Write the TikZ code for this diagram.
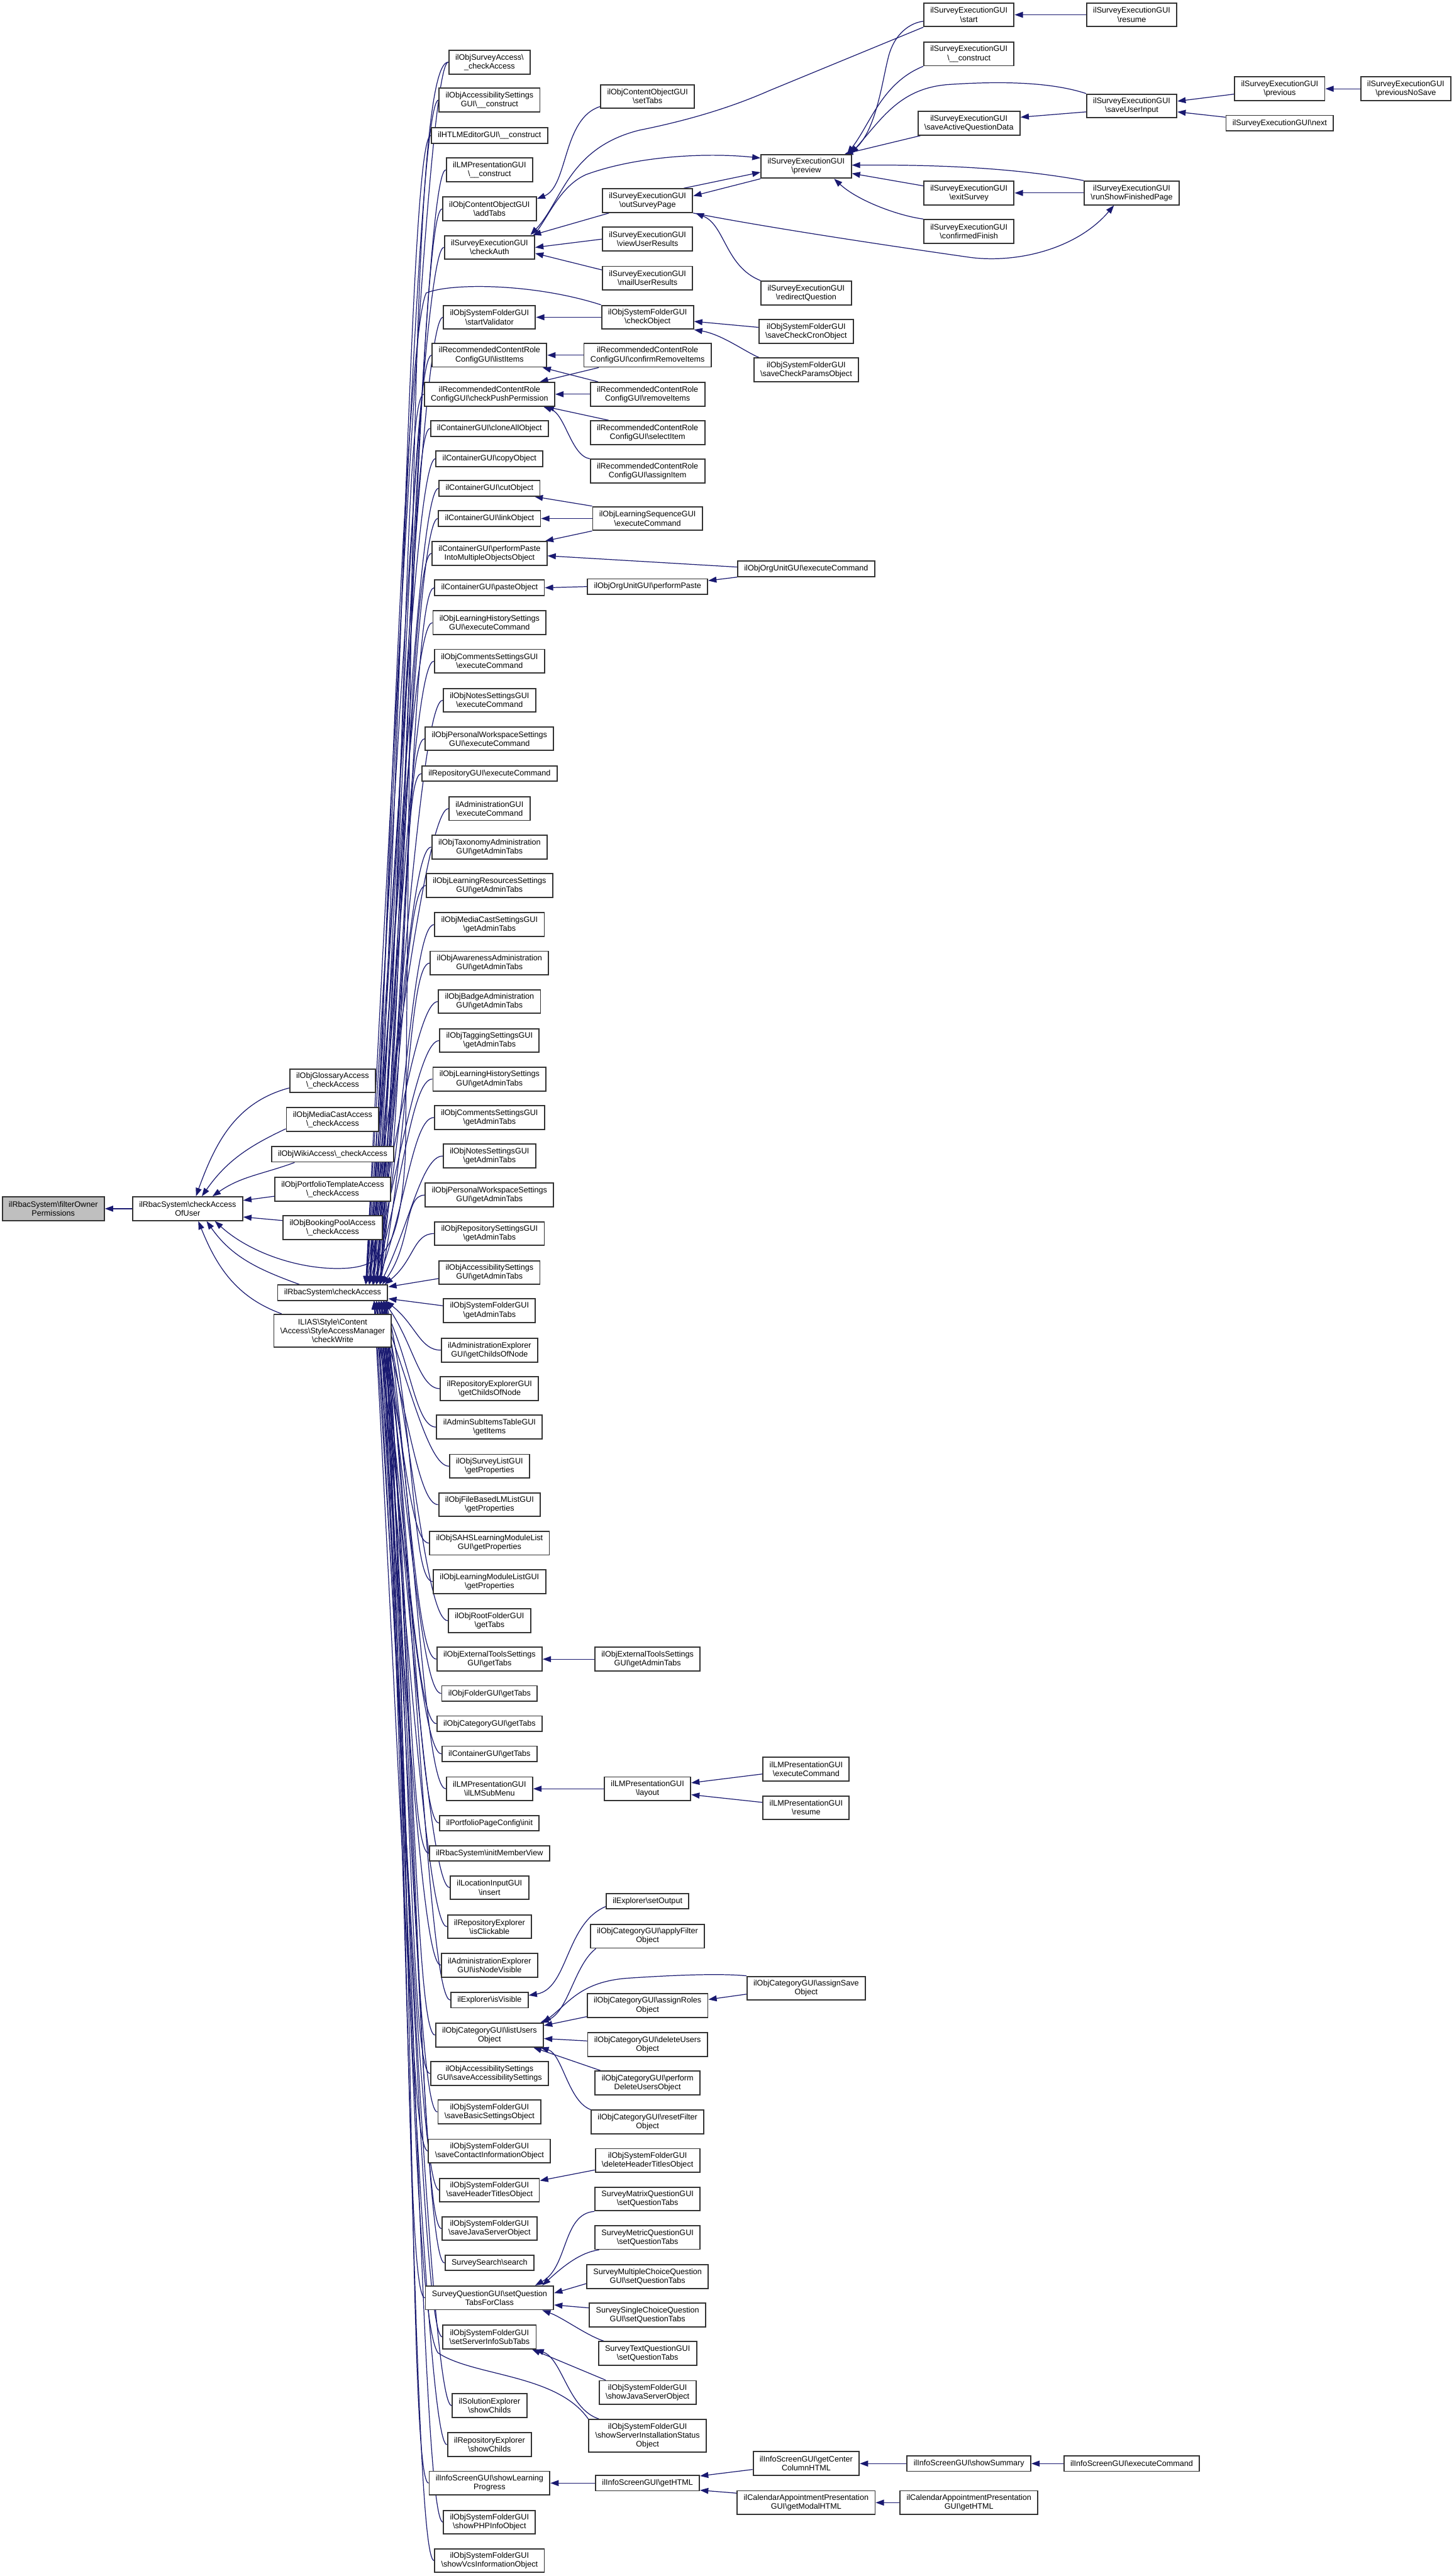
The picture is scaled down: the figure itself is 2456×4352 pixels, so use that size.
\documentclass[tikz,border=0pt]{standalone}
\usepackage{fontspec}
\setmainfont{Liberation Sans}
\usetikzlibrary{arrows.meta}
\newcommand\bksl{\textbackslash}
\definecolor{edgeblue}{HTML}{191970}
\definecolor{rootgray}{HTML}{BFBFBF}
\pgfdeclarelayer{bg}
\pgfsetlayers{bg,main}
\tikzset{
 box/.style={draw=black!80, line width=1pt, fill=white, font=\fontsize{6.7}{7.5}\selectfont, align=center, inner xsep=5.5pt, inner ysep=1pt, minimum height=20pt},
 one/.style={minimum height=13pt},
 three/.style={minimum height=27.5pt},
 root/.style={fill=rootgray},
 edge/.style={draw=edgeblue, line width=0.65pt, arrows={Triangle[length=7pt,width=5pt]-}},
}
\begin{document}
\begin{tikzpicture}[x=0.5pt,y=-0.5pt]
\useasboundingbox (0,0) rectangle (2456,4352);
% column 1-3
\node[box,root] (filter) at (90,2042) {ilRbacSystem\bksl filterOwner\\Permissions};
\node[box] (aou) at (317,2042) {ilRbacSystem\bksl checkAccess\\OfUser};
\node[box] (g1) at (562,1826) {ilObjGlossaryAccess\\\bksl\_checkAccess};
\node[box] (g2) at (562,1891) {ilObjMediaCastAccess\\\bksl\_checkAccess};
\node[box,one] (g3) at (562,1950) {ilObjWikiAccess\bksl\_checkAccess};
\node[box] (g4) at (562,2009) {ilObjPortfolioTemplateAccess\\\bksl\_checkAccess};
\node[box] (g5) at (562,2074) {ilObjBookingPoolAccess\\\bksl\_checkAccess};
\node[box,one] (ca) at (562,2184) {ilRbacSystem\bksl checkAccess};
\node[box,three] (sam) at (562,2248) {ILIAS\bksl Style\bksl Content\\\bksl Access\bksl StyleAccessManager\\\bksl checkWrite};
% column 4
\node[box] (a01) at (827,105) {ilObjSurveyAccess\bksl\\\_checkAccess};
\node[box] (a02) at (827,169) {ilObjAccessibilitySettings\\GUI\bksl\_\_construct};
\node[box,one] (a03) at (827,229) {ilHTLMEditorGUI\bksl\_\_construct};
\node[box] (a04) at (827,287) {ilLMPresentationGUI\\\bksl\_\_construct};
\node[box] (a05) at (827,353) {ilObjContentObjectGUI\\\bksl addTabs};
\node[box] (a06) at (827,418) {ilSurveyExecutionGUI\\\bksl checkAuth};
\node[box] (a07) at (827,536) {ilObjSystemFolderGUI\\\bksl startValidator};
\node[box] (a08) at (827,600) {ilRecommendedContentRole\\ConfigGUI\bksl listItems};
\node[box] (a09) at (827,666) {ilRecommendedContentRole\\ConfigGUI\bksl checkPushPermission};
\node[box,one] (a10) at (827,724) {ilContainerGUI\bksl cloneAllObject};
\node[box,one] (a11) at (827,775) {ilContainerGUI\bksl copyObject};
\node[box,one] (a12) at (827,825) {ilContainerGUI\bksl cutObject};
\node[box,one] (a13) at (827,876) {ilContainerGUI\bksl linkObject};
\node[box] (a14) at (827,935) {ilContainerGUI\bksl performPaste\\IntoMultipleObjectsObject};
\node[box,one] (a15) at (827,993) {ilContainerGUI\bksl pasteObject};
\node[box] (a16) at (827,1052) {ilObjLearningHistorySettings\\GUI\bksl executeCommand};
\node[box] (a17) at (827,1117) {ilObjCommentsSettingsGUI\\\bksl executeCommand};
\node[box] (a18) at (827,1183) {ilObjNotesSettingsGUI\\\bksl executeCommand};
\node[box] (a19) at (827,1248) {ilObjPersonalWorkspaceSettings\\GUI\bksl executeCommand};
\node[box,one] (a20) at (827,1307) {ilRepositoryGUI\bksl executeCommand};
\node[box] (a21) at (827,1366) {ilAdministrationGUI\\\bksl executeCommand};
\node[box] (a22) at (827,1431) {ilObjTaxonomyAdministration\\GUI\bksl getAdminTabs};
\node[box] (a23) at (827,1496) {ilObjLearningResourcesSettings\\GUI\bksl getAdminTabs};
\node[box] (a24) at (827,1562) {ilObjMediaCastSettingsGUI\\\bksl getAdminTabs};
\node[box] (a25) at (827,1627) {ilObjAwarenessAdministration\\GUI\bksl getAdminTabs};
\node[box] (a26) at (827,1692) {ilObjBadgeAdministration\\GUI\bksl getAdminTabs};
\node[box] (a27) at (827,1758) {ilObjTaggingSettingsGUI\\\bksl getAdminTabs};
\node[box] (a28) at (827,1823) {ilObjLearningHistorySettings\\GUI\bksl getAdminTabs};
\node[box] (a29) at (827,1888) {ilObjCommentsSettingsGUI\\\bksl getAdminTabs};
\node[box] (a30) at (827,1953) {ilObjNotesSettingsGUI\\\bksl getAdminTabs};
\node[box] (a31) at (827,2019) {ilObjPersonalWorkspaceSettings\\GUI\bksl getAdminTabs};
\node[box] (a32) at (827,2084) {ilObjRepositorySettingsGUI\\\bksl getAdminTabs};
\node[box] (a33) at (827,2150) {ilObjAccessibilitySettings\\GUI\bksl getAdminTabs};
\node[box] (a34) at (827,2214) {ilObjSystemFolderGUI\\\bksl getAdminTabs};
\node[box] (a35) at (827,2281) {ilAdministrationExplorer\\GUI\bksl getChildsOfNode};
\node[box] (a36) at (827,2346) {ilRepositoryExplorerGUI\\\bksl getChildsOfNode};
\node[box] (a37) at (827,2411) {ilAdminSubItemsTableGUI\\\bksl getItems};
\node[box] (a38) at (827,2477) {ilObjSurveyListGUI\\\bksl getProperties};
\node[box] (a39) at (827,2542) {ilObjFileBasedLMListGUI\\\bksl getProperties};
\node[box] (a40) at (827,2607) {ilObjSAHSLearningModuleList\\GUI\bksl getProperties};
\node[box] (a41) at (827,2672) {ilObjLearningModuleListGUI\\\bksl getProperties};
\node[box] (a42) at (827,2738) {ilObjRootFolderGUI\\\bksl getTabs};
\node[box] (a43) at (827,2803) {ilObjExternalToolsSettings\\GUI\bksl getTabs};
\node[box,one] (a44) at (827,2861) {ilObjFolderGUI\bksl getTabs};
\node[box,one] (a45) at (827,2912) {ilObjCategoryGUI\bksl getTabs};
\node[box,one] (a46) at (827,2963) {ilContainerGUI\bksl getTabs};
\node[box] (a47) at (827,3022) {ilLMPresentationGUI\\\bksl ilLMSubMenu};
\node[box,one] (a48) at (827,3080) {ilPortfolioPageConfig\bksl init};
\node[box,one] (a49) at (827,3131) {ilRbacSystem\bksl initMemberView};
\node[box] (a50) at (827,3189) {ilLocationInputGUI\\\bksl insert};
\node[box] (a51) at (827,3255) {ilRepositoryExplorer\\\bksl isClickable};
\node[box] (a52) at (827,3320) {ilAdministrationExplorer\\GUI\bksl isNodeVisible};
\node[box,one] (a53) at (827,3379) {ilExplorer\bksl isVisible};
\node[box] (a54) at (827,3438) {ilObjCategoryGUI\bksl listUsers\\Object};
\node[box] (a55) at (827,3503) {ilObjAccessibilitySettings\\GUI\bksl saveAccessibilitySettings};
\node[box] (a56) at (827,3568) {ilObjSystemFolderGUI\\\bksl saveBasicSettingsObject};
\node[box] (a57) at (827,3634) {ilObjSystemFolderGUI\\\bksl saveContactInformationObject};
\node[box] (a58) at (827,3700) {ilObjSystemFolderGUI\\\bksl saveHeaderTitlesObject};
\node[box] (a59) at (827,3765) {ilObjSystemFolderGUI\\\bksl saveJavaServerObject};
\node[box,one] (a60) at (827,3823) {SurveySearch\bksl search};
\node[box] (a61) at (827,3882) {SurveyQuestionGUI\bksl setQuestion\\TabsForClass};
\node[box] (a62) at (827,3948) {ilObjSystemFolderGUI\\\bksl setServerInfoSubTabs};
\node[box] (a63) at (827,4064) {ilSolutionExplorer\\\bksl showChilds};
\node[box] (a64) at (827,4130) {ilRepositoryExplorer\\\bksl showChilds};
\node[box] (a65) at (827,4195) {ilInfoScreenGUI\bksl showLearning\\Progress};
\node[box] (a66) at (827,4261) {ilObjSystemFolderGUI\\\bksl showPHPInfoObject};
\node[box] (a67) at (827,4326) {ilObjSystemFolderGUI\\\bksl showVcsInformationObject};
% column 5
\node[box] (b01) at (1094,163) {ilObjContentObjectGUI\\\bksl setTabs};
\node[box] (b02) at (1094,339) {ilSurveyExecutionGUI\\\bksl outSurveyPage};
\node[box] (b03) at (1094,404) {ilSurveyExecutionGUI\\\bksl viewUserResults};
\node[box] (b04) at (1094,470) {ilSurveyExecutionGUI\\\bksl mailUserResults};
\node[box] (b05) at (1094,536) {ilObjSystemFolderGUI\\\bksl checkObject};
\node[box] (b06) at (1094,600) {ilRecommendedContentRole\\ConfigGUI\bksl confirmRemoveItems};
\node[box] (b07) at (1094,666) {ilRecommendedContentRole\\ConfigGUI\bksl removeItems};
\node[box] (b08) at (1094,731) {ilRecommendedContentRole\\ConfigGUI\bksl selectItem};
\node[box] (b09) at (1094,796) {ilRecommendedContentRole\\ConfigGUI\bksl assignItem};
\node[box] (b10) at (1094,876) {ilObjLearningSequenceGUI\\\bksl executeCommand};
\node[box,one] (b11) at (1094,991) {ilObjOrgUnitGUI\bksl performPaste};
\node[box] (b12) at (1094,2803) {ilObjExternalToolsSettings\\GUI\bksl getAdminTabs};
\node[box] (b13) at (1094,3022) {ilLMPresentationGUI\\\bksl layout};
\node[box,one] (b14) at (1094,3212) {ilExplorer\bksl setOutput};
\node[box] (b15) at (1094,3271) {ilObjCategoryGUI\bksl applyFilter\\Object};
\node[box] (b16) at (1094,3388) {ilObjCategoryGUI\bksl assignRoles\\Object};
\node[box] (b17) at (1094,3454) {ilObjCategoryGUI\bksl deleteUsers\\Object};
\node[box] (b18) at (1094,3519) {ilObjCategoryGUI\bksl perform\\DeleteUsersObject};
\node[box] (b19) at (1094,3585) {ilObjCategoryGUI\bksl resetFilter\\Object};
\node[box] (b20) at (1094,3650) {ilObjSystemFolderGUI\\\bksl deleteHeaderTitlesObject};
\node[box] (b21) at (1094,3715) {SurveyMatrixQuestionGUI\\\bksl setQuestionTabs};
\node[box] (b22) at (1094,3780) {SurveyMetricQuestionGUI\\\bksl setQuestionTabs};
\node[box] (b23) at (1094,3846) {SurveyMultipleChoiceQuestion\\GUI\bksl setQuestionTabs};
\node[box] (b24) at (1094,3911) {SurveySingleChoiceQuestion\\GUI\bksl setQuestionTabs};
\node[box] (b25) at (1094,3976) {SurveyTextQuestionGUI\\\bksl setQuestionTabs};
\node[box] (b26) at (1094,4042) {ilObjSystemFolderGUI\\\bksl showJavaServerObject};
\node[box,three] (b27) at (1094,4115) {ilObjSystemFolderGUI\\\bksl showServerInstallationStatus\\Object};
\node[box,one] (b28) at (1094,4195) {ilInfoScreenGUI\bksl getHTML};
% column 6
\node[box] (c01) at (1362,281) {ilSurveyExecutionGUI\\\bksl preview};
\node[box] (c02) at (1362,495) {ilSurveyExecutionGUI\\\bksl redirectQuestion};
\node[box] (c03) at (1362,560) {ilObjSystemFolderGUI\\\bksl saveCheckCronObject};
\node[box] (c04) at (1362,625) {ilObjSystemFolderGUI\\\bksl saveCheckParamsObject};
\node[box,one] (c05) at (1362,961) {ilObjOrgUnitGUI\bksl executeCommand};
\node[box] (c06) at (1362,2989) {ilLMPresentationGUI\\\bksl executeCommand};
\node[box] (c07) at (1362,3054) {ilLMPresentationGUI\\\bksl resume};
\node[box] (c08) at (1362,3359) {ilObjCategoryGUI\bksl assignSave\\Object};
\node[box] (c09) at (1362,4162) {ilInfoScreenGUI\bksl getCenter\\ColumnHTML};
\node[box] (c10) at (1362,4228) {ilCalendarAppointmentPresentation\\GUI\bksl getModalHTML};
% column 7
\node[box] (d01) at (1637,25) {ilSurveyExecutionGUI\\\bksl start};
\node[box] (d02) at (1637,91) {ilSurveyExecutionGUI\\\bksl\_\_construct};
\node[box] (d03) at (1637,208) {ilSurveyExecutionGUI\\\bksl saveActiveQuestionData};
\node[box] (d04) at (1637,326) {ilSurveyExecutionGUI\\\bksl exitSurvey};
\node[box] (d05) at (1637,391) {ilSurveyExecutionGUI\\\bksl confirmedFinish};
\node[box,one] (d06) at (1637,4162) {ilInfoScreenGUI\bksl showSummary};
\node[box] (d07) at (1637,4228) {ilCalendarAppointmentPresentation\\GUI\bksl getHTML};
% column 8-10
\node[box] (e01) at (1912,25) {ilSurveyExecutionGUI\\\bksl resume};
\node[box] (e02) at (1912,179) {ilSurveyExecutionGUI\\\bksl saveUserInput};
\node[box] (e03) at (1912,326) {ilSurveyExecutionGUI\\\bksl runShowFinishedPage};
\node[box,one] (e04) at (1912,4162) {ilInfoScreenGUI\bksl executeCommand};
\node[box] (f01) at (2162,150) {ilSurveyExecutionGUI\\\bksl previous};
\node[box,one] (f02) at (2162,208) {ilSurveyExecutionGUI\bksl next};
\node[box] (g01) at (2375,150) {ilSurveyExecutionGUI\\\bksl previousNoSave};

\begin{pgfonlayer}{bg}
\fill[white] (0,0) rectangle (2456,4352);
\draw[edge] (filter.east) -- (aou.west);
\draw[edge] ([xshift=7pt]aou.north) to[out=70,in=195] ([yshift=-6pt]g1.west);
\draw[edge] ([xshift=12pt]aou.north) to[out=55,in=205] ([yshift=-8pt]g2.west);
\draw[edge] ([xshift=21pt]aou.north) to[out=35,in=200] ([xshift=20pt]g3.south west);
\draw[edge] ([yshift=7pt]aou.east) -- ([yshift=-6pt]g4.west);
\draw[edge] ([yshift=-7pt]aou.east) -- ([yshift=6pt]g5.west);
\draw[edge] ([xshift=16pt]aou.south) to[out=-55,in=160] ([xshift=19pt]ca.north west);
\draw[edge] ([xshift=9pt]aou.south) to[out=-68,in=160] ([xshift=7pt]sam.north west);
\draw[edge] ([xshift=23pt]aou.south) .. controls (420,2115) and (500,2143) .. (570,2143) .. controls (650,2143) and (676,2110) .. (685,1950) .. controls (695,900) and (700,105) .. (a01.west);
% bundle into checkAccess
\foreach \n/\s/\k in {a01/-19/971,a02/-16/941,a03/-13/913,a04/-10/885,a05/-7/854,a06/-19/824,a07/-16/768,a08/-13/738,a09/-10/707,a10/-7/680,a11/-19/656,a12/-16/633,a13/-13/609,a14/-10/581,a15/-7/554,a16/-19/526,a17/-16/495,a18/-13/464,a19/-10/434,a20/-7/406,a21/-19/378,a22/-16/348,a23/-13/317,a24/-10/286,a25/-7/256,a26/-19/225,a27/-16/194,a28/-13/164,a29/-10/133,a30/-7/102,a31/-5/71,a32/-3/41}
  \draw[edge] ([xshift=\s pt]ca.north east) .. controls +(50,-\k) and +(-35,0) .. (\n.west);
\foreach \n/\s/\k in {a35/-2/39,a36/-4/70,a37/-6/101,a38/-8/132,a39/-10/162,a40/-12/193,a41/-2/223,a42/-4/254,a43/-6/285,a44/-8/312,a45/-10/336,a46/-12/360,a47/-2/388,a48/-4/415,a49/-6/439,a50/-8/466,a51/-10/497,a52/-12/528,a53/-2/556,a54/-4/583,a55/-6/614,a56/-8/644,a57/-10/675,a58/-12/706,a59/-2/737,a60/-4/764,a61/-6/792,a62/-8/823,a63/-10/877,a64/-12/909,a65/-2/939,a66/-4/970,a67/-6/1001}
  \draw[edge] ([xshift=\s pt]ca.south east) .. controls +(50,\k) and +(-35,0) .. (\n.west);
\draw[edge] ([yshift=5pt]ca.east) -- ([yshift=-5pt]a33.west);
\draw[edge] ([yshift=-5pt]ca.east) -- ([yshift=4pt]a34.west);
% survey execution area
\draw[edge] ([yshift=-2pt]a05.north east) .. controls (960,315) and (950,200) .. ([yshift=2pt]b01.south west);
\draw[edge] ([xshift=-2pt]a06.north east) -- ([xshift=6pt]b02.south west);
\draw[edge] (a06.east) -- (b03.west);
\draw[edge] ([yshift=-5pt]a06.east) -- ([yshift=7pt]b04.west);
\draw[edge] ([xshift=-4pt]a06.north east) .. controls (950,340) and (960,250) .. (1080,220) .. controls (1180,200) and (1250,175) .. (1300,153) -- (d01.south west);
\draw[edge] ([yshift=7pt]c01.west) .. controls (1200,258) and (1080,262) .. (990,295) .. controls (945,315) and (925,370) .. ([xshift=-1pt]a06.north east);
\draw[edge] ([yshift=-5pt]c01.west) -- ([xshift=-8pt]b02.north east);
\draw[edge] ([yshift=4pt]b02.east) -- (c01.south west);
\draw[edge] ([xshift=2pt]b02.south east) .. controls (1225,380) and (1225,450) .. (c02.north west);
\draw[edge] ([xshift=-15pt]e03.south) .. controls (1820,420) and (1720,445) .. (1640,435) .. controls (1500,415) and (1300,385) .. (b02.south east);
\draw[edge] ([xshift=-2pt]c01.north east) .. controls (1480,220) and (1490,140) .. (1500,100) .. controls (1510,55) and (1540,38) .. ([yshift=-5.5pt]d01.west);
\draw[edge] ([xshift=-4pt]c01.north east) .. controls (1470,210) and (1490,140) .. (d02.south west);
\draw[edge] ([xshift=-1pt]c01.north east) .. controls (1490,200) and (1520,150) .. (1600,143) .. controls (1700,136) and (1780,140) .. (e02.north west);
\draw[edge] ([yshift=5pt]d03.east) -- ([yshift=-5pt]e02.west);
\draw[edge] ([xshift=-6pt]c01.north east) -- ([xshift=3pt]d03.south west);
\draw[edge] ([yshift=4pt]e02.east) -- ([yshift=-4.5pt]f01.west);
\draw[edge] ([yshift=-5pt]e02.east) -- ([yshift=5pt]f02.west);
\draw[edge] (f01.east) -- (g01.west);
\draw[edge] (d01.east) -- (e01.west);
\draw[edge] ([yshift=1pt]c01.east) .. controls (1600,278) and (1720,285) .. (e03.north west);
\draw[edge] (d04.east) -- (e03.west);
\draw[edge] ([yshift=-6pt]c01.east) -- ([yshift=6pt]d04.west);
\draw[edge] ([xshift=-15pt]c01.south east) .. controls (1450,340) and (1520,365) .. (d05.north west);
% system folder check object
\draw[edge] (a07.east) -- (b05.west);
\draw[edge] ([xshift=-12pt]ca.north east) .. controls (660,1300) and (690,560) .. (720,495) .. controls (760,478) and (900,478) .. (b05.north west);
\draw[edge] ([yshift=-3.5pt]b05.east) -- ([yshift=3.5pt]c03.west);
\draw[edge] (b05.south east) .. controls (1220,565) and (1260,595) .. ([xshift=5pt]c04.north west);
% recommended content
\draw[edge] (a08.east) -- (b06.west);
\draw[edge] ([xshift=-13pt]a09.north east) -- ([xshift=13pt]b06.south west);
\draw[edge] ([xshift=-4pt]a08.south east) -- ([xshift=7pt]b07.north west);
\draw[edge] (a09.east) -- (b07.west);
\draw[edge] ([xshift=-8pt]a09.south east) -- ([xshift=16pt]b08.north west);
\draw[edge] ([xshift=-10pt]a09.south east) .. controls (955,700) and (965,770) .. (b09.north west);
% container
\draw[edge] ([xshift=-5pt]a12.south east) -- (b10.north west);
\draw[edge] (a13.east) -- (b10.west);
\draw[edge] ([xshift=-2pt]a14.north east) -- (b10.south west);
\draw[edge] ([yshift=-2pt]a14.east) -- ([yshift=1.5pt]c05.west);
\draw[edge] ([yshift=5pt]b11.east) -- ([yshift=-7pt]c05.west);
\draw[edge] (a15.east) -- (b11.west);
% lower part
\draw[edge] (a43.east) -- (b12.west);
\draw[edge] (a47.east) -- (b13.west);
\draw[edge] ([yshift=5pt]b13.east) -- ([yshift=-4pt]c06.west);
\draw[edge] ([yshift=-5pt]b13.east) -- ([yshift=4.5pt]c07.west);
\draw[edge] ([yshift=4pt]a53.east) .. controls (960,3360) and (955,3250) .. ([yshift=-4.5pt]b14.west);
\draw[edge] ([xshift=-3pt]a54.north east) .. controls (960,3400) and (970,3320) .. ([xshift=5pt]b15.south west);
\draw[edge] ([xshift=-1pt]a54.north east) .. controls (960,3385) and (980,3348) .. (1060,3342) .. controls (1150,3336) and (1220,3334) .. (c08.north west);
\draw[edge] ([yshift=5pt]b16.east) -- ([yshift=-5pt]c08.west);
\draw[edge] ([yshift=8pt]a54.east) -- ([yshift=1pt]b16.south west);
\draw[edge] ([yshift=-3pt]a54.east) -- ([yshift=3pt]b17.west);
\draw[edge] ([xshift=-9pt]a54.south east) -- ([xshift=5pt]b18.north west);
\draw[edge] ([xshift=-3pt]a54.south east) .. controls (950,3470) and (960,3550) .. (b19.north west);
\draw[edge] ([yshift=8pt]a58.east) -- ([yshift=-8pt]b20.west);
\draw[edge] ([xshift=-16pt]a61.north east) .. controls (960,3830) and (950,3740) .. (b21.south west);
\draw[edge] ([xshift=-10pt]a61.north east) .. controls (950,3830) and (980,3805) .. ([xshift=4pt]b22.south west);
\draw[edge] ([yshift=4pt]a61.east) -- ([yshift=-6pt]b23.west);
\draw[edge] ([yshift=-6pt]a61.east) -- ([yshift=6pt]b24.west);
\draw[edge] ([xshift=-10pt]a61.south east) .. controls (950,3915) and (990,3945) .. ([xshift=5pt]b25.north west);
\draw[edge] ([xshift=-4pt]a62.south east) -- ([xshift=6pt]b26.north west);
\draw[edge] ([xshift=-1pt]a62.south east) .. controls (950,3985) and (960,4070) .. ([xshift=9pt]b27.north west);
\draw[edge] ([xshift=-3pt]ca.south east) .. controls (690,3200) and (700,3920) .. (740,3975) .. controls (800,4015) and (940,4010) .. (b27.north west);
\draw[edge] (a65.east) -- (b28.west);
\draw[edge] ([yshift=6pt]b28.east) -- ([yshift=-5pt]c09.west);
\draw[edge] ([yshift=-6pt]b28.east) -- ([yshift=8pt]c10.west);
\draw[edge] (c09.east) -- (d06.west);
\draw[edge] (d06.east) -- (e04.west);
\draw[edge] (c10.east) -- (d07.west);
\end{pgfonlayer}
\end{tikzpicture}
\end{document}
